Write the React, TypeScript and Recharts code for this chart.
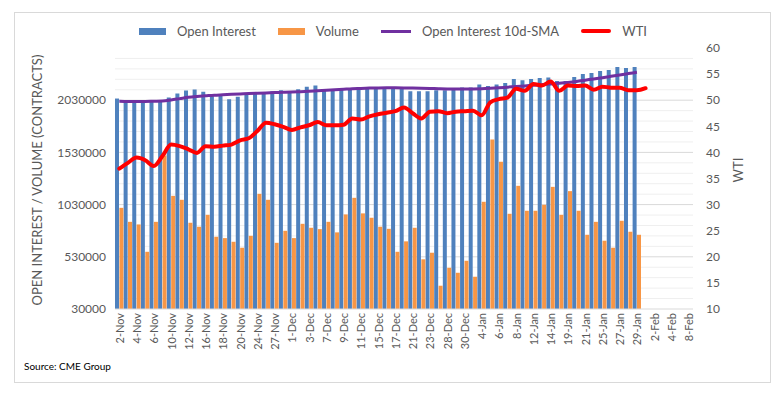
import React from 'react';
import {
  ComposedChart,
  Bar,
  Line,
  XAxis,
  YAxis,
  CartesianGrid
} from 'recharts';

// trading days, 2-Nov to 8-Feb
const DATES = [
  '2-Nov', '3-Nov', '4-Nov', '5-Nov', '6-Nov', '9-Nov', '10-Nov', '11-Nov', '12-Nov', '13-Nov',
  '16-Nov', '17-Nov', '18-Nov', '19-Nov', '20-Nov', '23-Nov', '24-Nov', '25-Nov', '27-Nov', '30-Nov',
  '1-Dec', '2-Dec', '3-Dec', '4-Dec', '7-Dec', '8-Dec', '9-Dec', '10-Dec', '11-Dec', '14-Dec',
  '15-Dec', '16-Dec', '17-Dec', '18-Dec', '21-Dec', '22-Dec', '23-Dec', '24-Dec', '28-Dec', '29-Dec',
  '30-Dec', '31-Dec', '4-Jan', '5-Jan', '6-Jan', '7-Jan', '8-Jan', '11-Jan', '12-Jan', '13-Jan',
  '14-Jan', '15-Jan', '19-Jan', '20-Jan', '21-Jan', '22-Jan', '25-Jan', '26-Jan', '27-Jan', '28-Jan',
  '29-Jan', '1-Feb', '2-Feb', '3-Feb', '4-Feb', '5-Feb', '8-Feb'
];

const OPEN_INTEREST = [
  2046000, 2030000, 2022000, 2020000, 2020000, 2025000, 2056000, 2094000, 2123000, 2132000,
  2110000, 2068000, 2071000, 2040000, 2062000, 2084000, 2094000, 2103000, 2116000, 2126000,
  2119000, 2135000, 2158000, 2170000, 2135000, 2135000, 2135000, 2142000, 2157000, 2157000,
  2154000, 2148000, 2148000, 2148000, 2116000, 2116000, 2116000, 2126000, 2126000, 2142000,
  2151000, 2151000, 2180000, 2167000, 2180000, 2195000, 2234000, 2221000, 2234000, 2243000,
  2247000, 2215000, 2215000, 2253000, 2282000, 2291000, 2310000, 2320000, 2348000, 2339000,
  2348000
];

const VOLUME = [
  999000, 865000, 840000, 578000, 865000, 1500000, 1114000, 1076000, 856000, 818000,
  932000, 722000, 709000, 674000, 617000, 731000, 1133000, 1076000, 664000, 779000,
  709000, 846000, 808000, 795000, 865000, 764000, 936000, 1095000, 946000, 904000,
  818000, 798000, 578000, 678000, 808000, 506000, 569000, 253000, 425000, 377000,
  492000, 339000, 1057000, 1654000, 1440000, 942000, 1210000, 971000, 971000, 1028000,
  1200000, 932000, 1159000, 971000, 741000, 865000, 684000, 617000, 875000, 770000,
  741000
];

const OI_SMA = [
  2020000, 2018000, 2018000, 2018000, 2020000, 2022000, 2032000, 2045000, 2058000, 2066000,
  2072000, 2078000, 2082000, 2086000, 2090000, 2094000, 2097000, 2100000, 2103000, 2105000,
  2108000, 2112000, 2116000, 2120000, 2125000, 2130000, 2135000, 2140000, 2143000, 2146000,
  2148000, 2149000, 2149000, 2148000, 2146000, 2144000, 2142000, 2140000, 2138000, 2137000,
  2137000, 2138000, 2140000, 2144000, 2149000, 2155000, 2161000, 2167000, 2173000, 2179000,
  2185000, 2192000, 2200000, 2210000, 2222000, 2234000, 2246000, 2259000, 2272000, 2285000,
  2298000
];

const WTI = [
  36.9, 38.0, 39.0, 38.5, 37.4, 39.3, 41.5, 41.2, 40.6, 39.9,
  41.2, 41.1, 41.3, 41.5, 42.3, 42.7, 44.1, 45.7, 45.4, 44.9,
  44.3, 44.8, 45.2, 45.8, 45.2, 45.2, 45.3, 46.5, 46.3, 46.9,
  47.3, 47.6, 47.9, 48.6, 47.5, 46.5, 47.8, 47.9, 47.5, 47.8,
  47.9, 48.0, 47.1, 49.6, 50.2, 50.5, 52.2, 51.8, 53.1, 52.8,
  53.6, 51.8, 52.8, 52.7, 52.8, 52.0, 52.6, 52.4, 52.4, 51.9,
  51.9, 52.3
];

const LEFT_TICKS = [30000, 530000, 1030000, 1530000, 2030000];
const RIGHT_TICKS = [10, 15, 20, 25, 30, 35, 40, 45, 50, 55, 60];
const MINOR_GRID = [
  130000, 230000, 330000, 430000, 630000, 730000, 830000, 930000, 1130000, 1230000,
  1330000, 1430000, 1630000, 1730000, 1830000, 1930000, 2130000, 2230000, 2330000, 2430000
];

const LEGEND = [
  { name: 'Open Interest', color: '#4F81BD', kind: 'bar' },
  { name: 'Volume', color: '#F79646', kind: 'bar' },
  { name: 'Open Interest 10d-SMA', color: '#7030A0', kind: 'sma' },
  { name: 'WTI', color: '#FF0000', kind: 'wti' }
];

const data = DATES.map((date, i) => ({
  date,
  oi: OPEN_INTEREST[i] ?? null,
  volume: VOLUME[i] ?? null,
  sma: OI_SMA[i] ?? null,
  wti: WTI[i] ?? null
}));

const FONT = 'Lato, "Open Sans", sans-serif';
const TEXT = '#595959';

const DateTick = ({ x, y, payload }: any) => (
  <text
    x={x}
    y={y}
    transform={`rotate(-90, ${x}, ${y})`}
    textAnchor="end"
    dominantBaseline="central"
    fontSize={11}
    fontFamily={FONT}
    fill={TEXT}
  >
    {payload.value}
  </text>
);

const LegendRow = () => (
  <div
    style={{
      position: 'absolute',
      left: 139,
      top: 23,
      display: 'flex',
      alignItems: 'center',
      gap: 22,
      fontSize: 13,
      lineHeight: '16px',
      color: TEXT
    }}
  >
    {LEGEND.map(item => (
      <div key={item.name} style={{ display: 'flex', alignItems: 'center' }}>
        <span
          style={{
            display: 'inline-block',
            width: item.kind === 'bar' ? 27 : 30,
            height: item.kind === 'bar' ? 7 : item.kind === 'sma' ? 3 : 4,
            borderRadius: item.kind === 'wti' ? 2 : 0,
            background: item.color,
            marginRight: 11
          }}
        />
        <span>{item.name}</span>
      </div>
    ))}
  </div>
);

export default function App() {
  return (
    <div
      style={{
        position: 'absolute',
        left: 0,
        top: 0,
        width: 772,
        height: 396,
        background: '#fff',
        fontFamily: FONT,
        overflow: 'hidden'
      }}
    >
      <div
        style={{
          position: 'absolute',
          left: 14,
          top: 12,
          width: 755,
          height: 369,
          border: '1px solid #d9d9d9'
        }}
      />
      <LegendRow />

      {/* axis titles */}
      <div
        style={{
          position: 'absolute',
          left: 37 - 140,
          top: 180 - 8,
          width: 280,
          height: 16,
          lineHeight: '16px',
          textAlign: 'center',
          fontSize: 13,
          color: TEXT,
          transform: 'rotate(-90deg)'
        }}
      >
        OPEN INTEREST / VOLUME (CONTRACTS)
      </div>
      <div
        style={{
          position: 'absolute',
          left: 738 - 20,
          top: 170 - 8,
          width: 40,
          height: 16,
          lineHeight: '16px',
          textAlign: 'center',
          fontSize: 13,
          color: TEXT,
          transform: 'rotate(-90deg)'
        }}
      >
        WTI
      </div>
      <div
        style={{
          position: 'absolute',
          left: 24,
          top: 360,
          fontSize: 10,
          color: '#000'
        }}
      >
        Source: CME Group
      </div>

      <div style={{ position: 'absolute', left: 0, top: 0 }}>
        <ComposedChart
          width={772}
          height={396}
          data={data}
          margin={{ top: 48, right: 39, bottom: 47, left: 14 }}
          barGap={0.4}
          barCategoryGap={0}
        >
          <CartesianGrid
            vertical={false}
            horizontalValues={MINOR_GRID}
            stroke="#efefef"
          />
          <CartesianGrid
            vertical={false}
            horizontalValues={LEFT_TICKS.slice(1)}
            stroke="#d9d9d9"
          />
          <XAxis
            dataKey="date"
            interval={1}
            tick={<DateTick />}
            tickLine={false}
            tickSize={4}
            tickMargin={0}
            height={40}
            axisLine={{ stroke: '#d9d9d9' }}
          />
          <YAxis
            width={101}
            domain={[30000, 2530000]}
            ticks={LEFT_TICKS}
            interval={0}
            axisLine={false}
            tickLine={false}
            tickMargin={3}
            tick={{ fontSize: 12, fill: TEXT, fontFamily: FONT }}
          />
          <YAxis
            yAxisId="right"
            orientation="right"
            width={40}
            domain={[10, 60]}
            ticks={RIGHT_TICKS}
            interval={0}
            axisLine={false}
            tickLine={false}
            tickMargin={7}
            tick={{ fontSize: 12, fill: TEXT, fontFamily: FONT }}
          />
          <Bar dataKey="oi" name="Open Interest" fill="#4F81BD" barSize={4} isAnimationActive={false} />
          <Bar dataKey="volume" name="Volume" fill="#F79646" barSize={4} isAnimationActive={false} />
          <Line
            dataKey="sma"
            name="Open Interest 10d-SMA"
            type="monotone"
            stroke="#7030A0"
            strokeWidth={3}
            dot={false}
            activeDot={false}
            isAnimationActive={false}
          />
          <Line
            yAxisId="right"
            dataKey="wti"
            name="WTI"
            type="monotone"
            stroke="#FF0000"
            strokeWidth={4}
            strokeLinecap="round"
            strokeLinejoin="round"
            dot={false}
            activeDot={false}
            isAnimationActive={false}
          />
        </ComposedChart>
      </div>
    </div>
  );
}
